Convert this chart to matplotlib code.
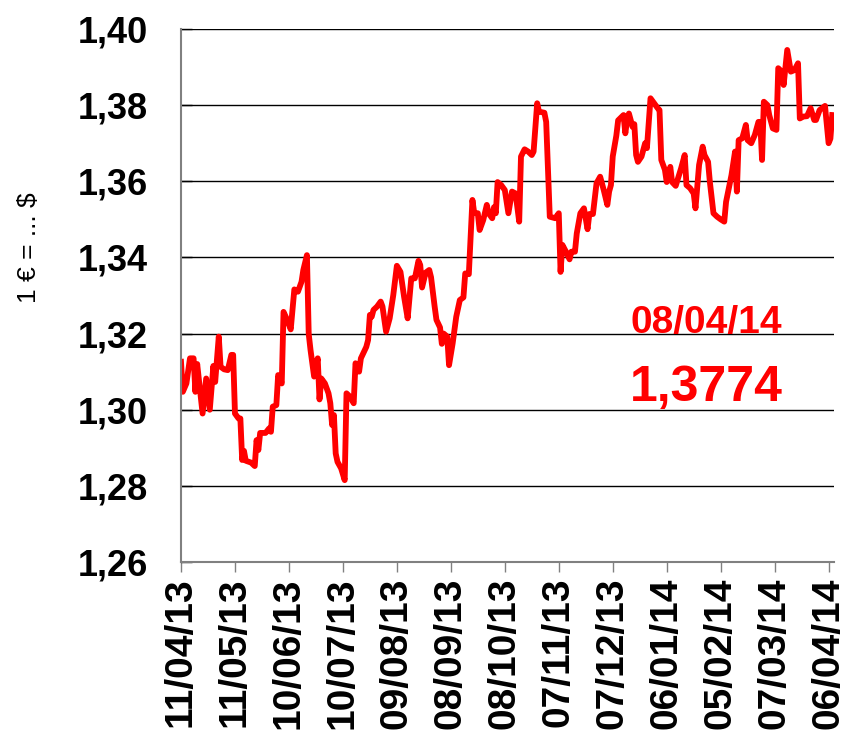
import matplotlib
matplotlib.use("Agg")
import matplotlib.dates as mdates
import matplotlib.pyplot as plt
import pandas as pd
from matplotlib.ticker import FuncFormatter

plt.rcParams["font.family"] = ["Liberation Sans", "DejaVu Sans"]

# EUR/USD rate
dates = [
    "2013-04-11", "2013-04-12", "2013-04-14", "2013-04-16", "2013-04-18", "2013-04-19",
    "2013-04-20", "2013-04-23", "2013-04-25", "2013-04-27", "2013-04-29", "2013-04-30",
    "2013-05-02", "2013-05-03", "2013-05-05", "2013-05-07", "2013-05-09", "2013-05-10",
    "2013-05-11", "2013-05-13", "2013-05-14", "2013-05-15", "2013-05-16", "2013-05-17",
    "2013-05-20", "2013-05-22", "2013-05-23", "2013-05-24", "2013-05-25", "2013-05-28",
    "2013-05-30", "2013-05-31", "2013-06-01", "2013-06-03", "2013-06-04", "2013-06-06",
    "2013-06-07", "2013-06-09", "2013-06-11", "2013-06-13", "2013-06-15", "2013-06-17",
    "2013-06-18", "2013-06-20", "2013-06-21", "2013-06-22", "2013-06-24", "2013-06-26",
    "2013-06-27", "2013-06-28", "2013-06-30", "2013-07-02", "2013-07-03", "2013-07-04",
    "2013-07-05", "2013-07-06", "2013-07-07", "2013-07-09", "2013-07-11", "2013-07-12",
    "2013-07-14", "2013-07-16", "2013-07-17", "2013-07-19", "2013-07-20", "2013-07-23",
    "2013-07-24", "2013-07-25", "2013-07-26", "2013-07-27", "2013-07-29", "2013-07-31",
    "2013-08-01", "2013-08-03", "2013-08-05", "2013-08-07", "2013-08-09", "2013-08-11",
    "2013-08-13", "2013-08-15", "2013-08-17", "2013-08-19", "2013-08-21", "2013-08-22",
    "2013-08-23", "2013-08-25", "2013-08-27", "2013-08-28", "2013-08-30", "2013-08-31",
    "2013-09-02", "2013-09-03", "2013-09-04", "2013-09-06", "2013-09-07", "2013-09-09",
    "2013-09-11", "2013-09-13", "2013-09-15", "2013-09-16", "2013-09-18", "2013-09-20",
    "2013-09-21", "2013-09-23", "2013-09-24", "2013-09-26", "2013-09-28", "2013-09-29",
    "2013-10-01", "2013-10-02", "2013-10-03", "2013-10-04", "2013-10-06", "2013-10-08",
    "2013-10-10", "2013-10-12", "2013-10-14", "2013-10-16", "2013-10-17", "2013-10-19",
    "2013-10-21", "2013-10-23", "2013-10-24", "2013-10-26", "2013-10-27", "2013-10-30",
    "2013-10-31", "2013-11-02", "2013-11-05", "2013-11-07", "2013-11-08", "2013-11-09",
    "2013-11-11", "2013-11-13", "2013-11-14", "2013-11-16", "2013-11-17", "2013-11-19",
    "2013-11-21", "2013-11-23", "2013-11-24", "2013-11-26", "2013-11-28", "2013-11-30",
    "2013-12-02", "2013-12-04", "2013-12-05", "2013-12-06", "2013-12-07", "2013-12-09",
    "2013-12-10", "2013-12-13", "2013-12-14", "2013-12-15", "2013-12-16", "2013-12-18",
    "2013-12-19", "2013-12-20", "2013-12-21", "2013-12-23", "2013-12-25", "2013-12-26",
    "2013-12-28", "2013-12-30", "2014-01-01", "2014-01-02", "2014-01-03", "2014-01-05",
    "2014-01-06", "2014-01-08", "2014-01-09", "2014-01-11", "2014-01-14", "2014-01-16",
    "2014-01-17", "2014-01-19", "2014-01-21", "2014-01-22", "2014-01-24", "2014-01-26",
    "2014-01-27", "2014-01-29", "2014-01-30", "2014-02-01", "2014-02-03", "2014-02-05",
    "2014-02-07", "2014-02-08", "2014-02-11", "2014-02-13", "2014-02-14", "2014-02-15",
    "2014-02-17", "2014-02-19", "2014-02-20", "2014-02-22", "2014-02-24", "2014-02-26",
    "2014-02-27", "2014-02-28", "2014-03-01", "2014-03-03", "2014-03-04", "2014-03-06",
    "2014-03-08", "2014-03-09", "2014-03-11", "2014-03-12", "2014-03-14", "2014-03-16",
    "2014-03-18", "2014-03-20", "2014-03-21", "2014-03-23", "2014-03-25", "2014-03-27",
    "2014-03-29", "2014-03-30", "2014-04-01", "2014-04-04", "2014-04-06", "2014-04-07",
    "2014-04-08",
]
rates = [
    1.3126, 1.3047, 1.3069, 1.3135, 1.3135, 1.3047,
    1.3120, 1.2990, 1.3082, 1.3000, 1.3115, 1.3073,
    1.3192, 1.3113, 1.3106, 1.3104, 1.3144, 1.3144,
    1.2990, 1.2977, 1.2977, 1.2868, 1.2892, 1.2866,
    1.2861, 1.2852, 1.2920, 1.2894, 1.2939, 1.2939,
    1.2951, 1.2942, 1.3008, 1.3012, 1.3091, 1.3069,
    1.3257, 1.3236, 1.3211, 1.3316, 1.3310, 1.3336,
    1.3367, 1.3406, 1.3199, 1.3157, 1.3087, 1.3135,
    1.3027, 1.3082, 1.3069, 1.3043, 1.3017, 1.2960,
    1.2986, 1.2885, 1.2863, 1.2846, 1.2815, 1.3043,
    1.3034, 1.3017, 1.3122, 1.3100, 1.3135, 1.3165,
    1.3183, 1.3249, 1.3244, 1.3262, 1.3271, 1.3284,
    1.3271, 1.3205, 1.3240, 1.3301, 1.3378, 1.3362,
    1.3297, 1.3240, 1.3345, 1.3345, 1.3391, 1.3380,
    1.3321, 1.3360, 1.3367, 1.3348, 1.3271, 1.3236,
    1.3216, 1.3173, 1.3200, 1.3192, 1.3117, 1.3174,
    1.3244, 1.3288, 1.3295, 1.3358, 1.3356, 1.3551,
    1.3517, 1.3516, 1.3472, 1.3498, 1.3538, 1.3516,
    1.3503, 1.3532, 1.3516, 1.3598, 1.3590, 1.3577,
    1.3516, 1.3573, 1.3568, 1.3494, 1.3665, 1.3684,
    1.3678, 1.3669, 1.3678, 1.3805, 1.3783, 1.3780,
    1.3756, 1.3507, 1.3503, 1.3516, 1.3362, 1.3433,
    1.3415, 1.3395, 1.3415, 1.3415, 1.3463, 1.3516,
    1.3529, 1.3474, 1.3514, 1.3514, 1.3595, 1.3612,
    1.3577, 1.3538, 1.3573, 1.3590, 1.3665, 1.3720,
    1.3760, 1.3774, 1.3726, 1.3761, 1.3778, 1.3743,
    1.3750, 1.3669, 1.3651, 1.3665, 1.3700, 1.3687,
    1.3818, 1.3805, 1.3792, 1.3787, 1.3656, 1.3630,
    1.3598, 1.3638, 1.3598, 1.3588, 1.3634, 1.3669,
    1.3590, 1.3582, 1.3568, 1.3529, 1.3643, 1.3691,
    1.3669, 1.3651, 1.3598, 1.3516, 1.3507, 1.3500,
    1.3494, 1.3546, 1.3616, 1.3678, 1.3573, 1.3708,
    1.3713, 1.3748, 1.3708, 1.3700, 1.3722, 1.3756,
    1.3756, 1.3656, 1.3809, 1.3800, 1.3774, 1.3739,
    1.3735, 1.3897, 1.3888, 1.3853, 1.3945, 1.3888,
    1.3892, 1.3910, 1.3765, 1.3770, 1.3771, 1.3792,
    1.3761, 1.3761, 1.3787, 1.3798, 1.3700, 1.3712,
    1.3774,
]

tick_dates = [
    "2013-04-11", "2013-05-11", "2013-06-10", "2013-07-10", "2013-08-09",
    "2013-09-08", "2013-10-08", "2013-11-07", "2013-12-07", "2014-01-06",
    "2014-02-05", "2014-03-07", "2014-04-06",
]
y_ticks = [1.26, 1.28, 1.30, 1.32, 1.34, 1.36, 1.38, 1.40]

last_date_label = "08/04/14"
last_rate_label = "1,3774"


def main() -> None:
    x = pd.to_datetime(dates)

    fig = plt.figure(figsize=(8.48, 7.42), dpi=100)
    ax = fig.add_axes([181 / 848, 1 - 562 / 742, (834 - 181) / 848, 533 / 742])

    ax.plot(x, rates, color="#ff0000", linewidth=4.2, solid_joinstyle="round")

    ax.set_xlim(pd.Timestamp("2013-04-11"), pd.Timestamp("2014-04-09"))
    ax.set_ylim(1.26, 1.40)

    ax.set_yticks(y_ticks)
    ax.yaxis.set_major_formatter(
        FuncFormatter(lambda v, _: f"{v:.2f}".replace(".", ","))
    )
    ax.grid(axis="y", color="black", linewidth=1.0)
    ax.set_axisbelow(True)

    ax.set_xticks(pd.to_datetime(tick_dates))
    ax.xaxis.set_major_formatter(mdates.DateFormatter("%d/%m/%y"))

    ax.tick_params(axis="x", direction="out", length=7, width=1, color="#808080",
                   pad=4, labelsize=28, labelrotation=90)
    ax.tick_params(axis="y", direction="in", length=8, width=1, color="black",
                   pad=24, labelsize=26)
    for lbl in ax.get_xticklabels() + ax.get_yticklabels():
        lbl.set_fontweight("bold")

    for side in ("top", "right"):
        ax.spines[side].set_visible(False)
    for side in ("left", "bottom"):
        ax.spines[side].set_color("#808080")
        ax.spines[side].set_linewidth(1.5)

    fig.text(29 / 848, 1 - 248 / 742, "1 € = ... $", rotation=90,
             ha="center", va="center", fontsize=19)

    fig.text(706 / 848, 1 - 323 / 742, last_date_label, color="#ff0000",
             ha="center", va="center", fontsize=28, fontweight="bold")
    fig.text(706 / 848, 1 - 388 / 742, last_rate_label, color="#ff0000",
             ha="center", va="center", fontsize=36, fontweight="bold")

    fig.savefig("out.png", dpi=100)
    plt.close(fig)


if __name__ == "__main__":
    main()
